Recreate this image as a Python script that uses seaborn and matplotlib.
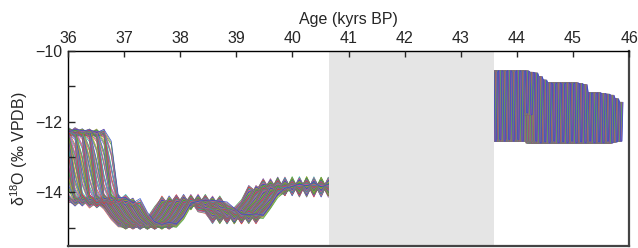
import numpy as np
import pandas as pd
import matplotlib
matplotlib.use("Agg")
import matplotlib.pyplot as plt
import seaborn as sns

# ---------------------------
# Data
# ---------------------------
# segment 1: median age model (kyrs BP) and d18O (permil VPDB)
seg1_age = [35.35, 35.48, 35.61, 35.74, 35.87, 36.00, 36.13, 36.26, 36.39, 36.52,
            36.65, 36.78, 36.91, 37.04, 37.17, 37.30, 37.43, 37.56, 37.69, 37.82,
            37.95, 38.08, 38.21, 38.34, 38.47, 38.60, 38.73, 38.86, 38.99, 39.12,
            39.25, 39.38, 39.51, 39.64, 39.77, 39.90, 40.03, 40.16, 40.29, 40.42,
            40.55, 40.68, 40.81, 40.94, 41.07]
seg1_d18o = [-12.25, -12.40, -12.20, -12.35, -12.25, -12.40, -12.25, -12.40, -14.10, -14.35,
             -14.10, -14.40, -14.20, -14.55, -14.85, -15.00, -14.85, -15.00, -14.85, -14.55,
             -14.15, -14.45, -14.10, -14.45, -14.15, -14.50, -14.50, -14.85, -14.50, -14.85,
             -14.50, -14.30, -13.85, -14.05, -13.65, -14.05, -13.60, -14.05, -13.65, -14.10,
             -13.60, -14.05, -13.65, -14.05, -13.65]

# segment 2: high / low values of the fast oscillation
seg2_age = [43.36, 43.44, 43.52, 43.60, 43.68, 43.76, 43.84, 43.92, 44.00, 44.08,
            44.16, 44.24, 44.32, 44.40, 44.48, 44.56, 44.64, 44.72, 44.80, 44.88,
            44.96, 45.04, 45.12, 45.20, 45.28, 45.36, 45.44, 45.52, 45.60, 45.68]
seg2_top = [-10.55, -10.60, -10.55, -10.58, -10.55, -10.60, -10.55, -10.58, -10.56, -10.60,
            -10.62, -10.72, -10.82, -10.90, -10.92, -10.90, -10.92, -10.90, -10.92, -10.90,
            -10.92, -10.95, -11.18, -11.20, -11.18, -11.20, -11.22, -11.25, -11.35, -11.45]
seg2_bottom = [-12.50, -12.55, -12.50, -12.55, -12.50, -12.55, -12.50, -12.55, -11.75, -11.80,
               -12.55, -12.60, -12.57, -12.60, -12.55, -12.60, -12.57, -12.60, -12.55, -12.60,
               -12.57, -12.60, -12.55, -12.60, -12.57, -12.60, -12.55, -12.60, -12.57, -12.55]

# ensemble: normalised age offsets of the members
member_shift = [-1.00, -0.96, -0.91, -0.87, -0.83, -0.78, -0.74, -0.70, -0.66, -0.61,
                -0.57, -0.53, -0.49, -0.45, -0.40, -0.36, -0.32, -0.28, -0.23, -0.19,
                -0.15, -0.11, -0.06, -0.02, 0.02, 0.06, 0.11, 0.15, 0.19, 0.23,
                0.28, 0.32, 0.36, 0.40, 0.45, 0.49, 0.53, 0.57, 0.61, 0.66,
                0.70, 0.74, 0.78, 0.83, 0.87, 0.91, 0.96, 1.00]
# small level offsets (segment 1) and extra age offsets (segment 2) per sub-ensemble
member_level = [-0.05, 0.0, 0.05]
member_phase = [0.0, 0.027, 0.053]

# age uncertainty (kyr) along segment 1, and for segment 2
unc_age = [36.0, 37.0, 38.0, 40.6]
unc_kyr = [0.55, 0.35, 0.30, 0.30]
seg2_unc = 0.10

gap_start, gap_end = 40.66, 43.6
grid_step = 0.129

colors = ["#e03c31", "#3aa33a", "#3050c8", "#22a6a6", "#9050b0", "#a8a030", "#d05a8a"]

# ---------------------------
# Build ensemble members
# ---------------------------
base1_age = np.array(seg1_age)
base1_val = np.array(seg1_d18o)
grid1 = (gap_start - 0.02) - grid_step * np.arange(38)[::-1]
unc1 = np.interp(base1_age, unc_age, unc_kyr)

# segment 2 as steep strokes: top -> bottom, along bottom, bottom -> top
a2 = np.array(seg2_age)
age2 = np.column_stack([a2, a2 + 0.018, a2 + 0.04, a2 + 0.058]).ravel()
val2 = np.column_stack([seg2_top, seg2_bottom, seg2_bottom, seg2_top]).ravel()

rows = []
palette = {}
i = 0
for lvl, ph in zip(member_level, member_phase):
    for s in member_shift:
        m_age = base1_age + s * unc1
        v = np.interp(grid1, m_age, base1_val) + lvl
        name = f"a{i}"
        rows.append(pd.DataFrame({"age": grid1, "d18o": v, "member": name}))
        palette[name] = colors[(i * 3) % len(colors)]
        name = f"b{i}"
        rows.append(pd.DataFrame({"age": age2 + s * seg2_unc + ph, "d18o": val2, "member": name}))
        palette[name] = colors[(i * 5 + 1) % len(colors)]
        i += 1
df = pd.concat(rows, ignore_index=True)

# ---------------------------
# Plot
# ---------------------------
sns.set_style("ticks")
plt.rcParams["font.family"] = ["Liberation Sans", "DejaVu Sans"]
plt.rcParams["mathtext.default"] = "regular"

fig = plt.figure(figsize=(6.38, 2.48), dpi=100)
ax = fig.add_axes([0.1066, 0.008, 0.8795, 0.786])

sns.lineplot(data=df, x="age", y="d18o", hue="member", palette=palette,
             estimator=None, sort=False, legend=False, lw=0.55, alpha=0.9, ax=ax)

ax.axvspan(gap_start, gap_end, color="#e5e5e5", lw=0, zorder=2.2)
ax.set_axisbelow(False)

ax.set_xlim(36, 46)
ax.set_ylim(-15.52, -10)
ax.set_xticks(range(36, 47))
ax.set_yticks([-15, -14, -13, -12, -11, -10])
ax.set_yticklabels(["", "\u221214", "", "\u221212", "", "\u221210"])

ax.xaxis.tick_top()
ax.xaxis.set_label_position("top")
ax.tick_params(axis="x", direction="in", length=4, width=1, pad=4, labelsize=11.5,
               top=True, bottom=False, labeltop=True, labelbottom=False)
ax.tick_params(axis="y", direction="in", length=5, width=1, pad=4, labelsize=11.5)

ax.set_xlabel("Age (kyrs BP)", fontsize=11.5, labelpad=5)
ax.set_ylabel("δ$^{18}$O (‰ VPDB)", fontsize=11.5, labelpad=4)

for side in ["top", "left"]:
    ax.spines[side].set_linewidth(1.0)
    ax.spines[side].set_color("black")
for side in ["bottom", "right"]:
    ax.spines[side].set_linewidth(1.6)
    ax.spines[side].set_color("#444444")

fig.savefig("out.png", dpi=100)
